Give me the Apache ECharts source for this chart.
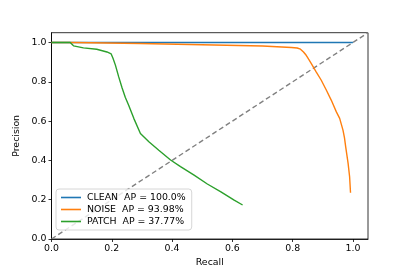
<!DOCTYPE html>
<html>
<head>
<meta charset="utf-8">
<script src="https://cdn.jsdelivr.net/npm/echarts@6/dist/echarts.min.js"></script>
<style>html,body{margin:0;padding:0;background:#fff;}#c{width:409px;height:273px;}</style>
</head>
<body>
<div id="c"></div>
<script>
var seriesNames = ['CLEAN  AP = 100.0%', 'NOISE  AP = 93.98%', 'PATCH  AP = 37.77%'];
var cleanRecall = [0.0, 1.0];
var cleanPrecision = [1.0, 1.0];
var noiseRecall = [0.0, 0.07, 0.295, 0.58, 0.7, 0.796, 0.815, 0.826, 0.836, 0.845, 0.853, 0.862, 0.878, 0.895, 0.912, 0.928, 0.945, 0.956, 0.967, 0.972, 0.976, 0.984, 0.989, 0.992];
var noisePrecision = [1.0, 1.0, 0.995, 0.986, 0.982, 0.975, 0.972, 0.966, 0.952, 0.935, 0.915, 0.893, 0.851, 0.808, 0.757, 0.707, 0.647, 0.614, 0.554, 0.515, 0.469, 0.385, 0.317, 0.235];
var patchRecall = [0.0, 0.062, 0.073, 0.106, 0.15, 0.184, 0.198, 0.204, 0.212, 0.223, 0.234, 0.245, 0.256, 0.273, 0.295, 0.323, 0.356, 0.395, 0.428, 0.473, 0.517, 0.562, 0.606, 0.634];
var patchPrecision = [1.0, 1.0, 0.983, 0.973, 0.966, 0.952, 0.942, 0.92, 0.885, 0.825, 0.77, 0.72, 0.681, 0.614, 0.537, 0.495, 0.452, 0.402, 0.368, 0.325, 0.28, 0.24, 0.198, 0.173];
var diagonalRecall = [0.0, 1.05];
var diagonalPrecision = [0.0, 1.05];
var tickValues = [0.0, 0.2, 0.4, 0.6, 0.8, 1.0];

function zip(a, b) { return a.map(function (v, i) { return [v, b[i]]; }); }

var chart = echarts.init(document.getElementById('c'), null, {renderer: 'canvas'});
var font = 'DejaVu Sans';
var fs = 9.4;
var axisCommon = {
  type: 'value', min: 0, max: 1.05, interval: 0.2,
  splitLine: {show: false},
  axisLine: {show: true, onZero: false, lineStyle: {color: '#000', width: 0.8}},
  axisTick: {show: true, inside: false, length: 3, lineStyle: {color: '#000', width: 0.8}},
  axisLabel: {
    color: '#000', fontFamily: font, fontSize: fs, showMaxLabel: false,
    formatter: function (v) { return tickValues.indexOf(Math.round(v * 10) / 10) >= 0 ? v.toFixed(1) : ''; }
  },
  nameLocation: 'middle',
  nameTextStyle: {color: '#000', fontFamily: font, fontSize: fs}
};
chart.setOption({
  animation: false,
  backgroundColor: '#fff',
  grid: {left: 51.5, right: 41, top: 32.7, bottom: 34, show: true, borderColor: '#000', borderWidth: 0.8, containLabel: false},
  xAxis: Object.assign({}, axisCommon, {name: 'Recall', nameGap: 17, axisLabel: Object.assign({}, axisCommon.axisLabel, {margin: 5})}),
  yAxis: Object.assign({}, axisCommon, {name: 'Precision', nameGap: 25, axisLabel: Object.assign({}, axisCommon.axisLabel, {margin: 5})}),
  legend: {
    orient: 'vertical', left: 56, top: 189,
    data: seriesNames,
    icon: 'rect', itemWidth: 20, itemHeight: 1.6, itemGap: 3,
    padding: [4, 6, 4, 5],
    backgroundColor: 'rgba(255,255,255,0.8)',
    borderColor: '#ccc', borderWidth: 0.8, borderRadius: 3,
    textStyle: {color: '#000', fontFamily: font, fontSize: fs, padding: [0, 0, 0, 1]}
  },
  series: [
    {name: seriesNames[0], type: 'line', data: zip(cleanRecall, cleanPrecision), showSymbol: false, color: '#1f77b4', lineStyle: {width: 1.4}},
    {name: seriesNames[1], type: 'line', data: zip(noiseRecall, noisePrecision), showSymbol: false, color: '#ff7f0e', lineStyle: {width: 1.4}},
    {name: seriesNames[2], type: 'line', data: zip(patchRecall, patchPrecision), showSymbol: false, color: '#2ca02c', lineStyle: {width: 1.4}},
    {name: 'diag', type: 'line', data: zip(diagonalRecall, diagonalPrecision), showSymbol: false, color: '#808080', lineStyle: {width: 1.4, type: [5, 3]}, z: 1}
  ]
});
</script>
</body>
</html>
